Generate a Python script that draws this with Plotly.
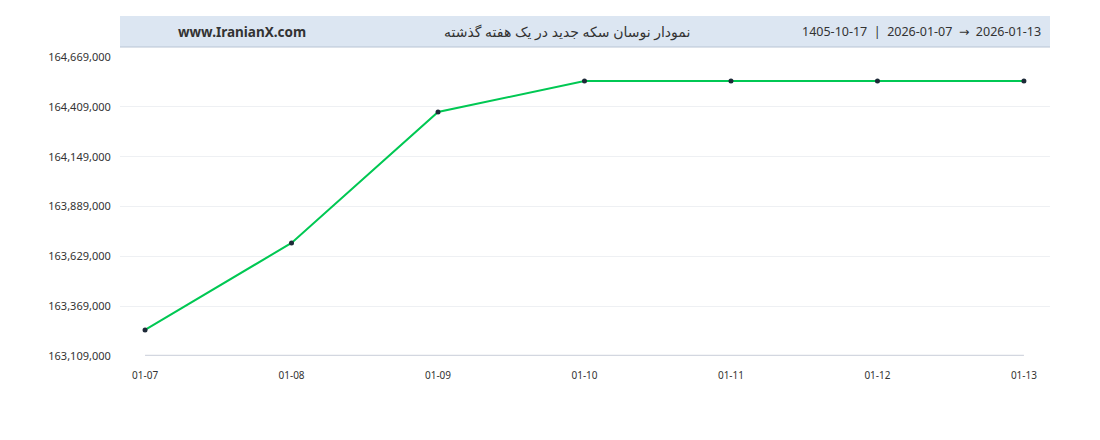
import plotly.graph_objects as go

dates = ["01-07", "01-08", "01-09", "01-10", "01-11", "01-12", "01-13"]
prices = [163245000, 163699000, 164382000, 164544000, 164544000, 164544000, 164544000]
y_ticks = [163109000, 163369000, 163629000, 163889000, 164149000, 164409000, 164669000]

site = "www.IranianX.com"
title = "نمودار نوسان سکه جدید در یک هفته گذشته"
date_text = "1405-10-17  |  2026-01-07  →  2026-01-13"

x_idx = list(range(len(dates)))

fig = go.Figure()
# baseline under the data span
fig.add_trace(go.Scatter(x=[x_idx[0], x_idx[-1]], y=[y_ticks[0], y_ticks[0]], mode="lines",
                         line=dict(color="#d3d7e0", width=2.5), hoverinfo="skip", showlegend=False,
                         cliponaxis=False))
fig.add_trace(go.Scatter(x=x_idx, y=prices, mode="lines+markers",
                         line=dict(color="#00c853", width=2),
                         marker=dict(color="#1e2a38", size=5),
                         showlegend=False, cliponaxis=False))

fig.update_layout(
    width=1100, height=440,
    margin=dict(l=112, r=58, t=49, b=92),
    paper_bgcolor="white", plot_bgcolor="white",
    font=dict(family="Noto Sans, DejaVu Sans, sans-serif", color="#333"),
    xaxis=dict(range=[-0.171, 6.178], tickvals=x_idx, ticktext=dates, showgrid=False,
               zeroline=False, showline=False, ticks="outside", ticklen=10,
               tickcolor="rgba(0,0,0,0)", tickfont=dict(size=10, color="#333")),
    yaxis=dict(range=[y_ticks[0], y_ticks[-1]], tickvals=y_ticks,
               ticktext=[f"{v:,}" for v in y_ticks], showgrid=True, gridcolor="#eef0f3",
               gridwidth=1, zeroline=False, showline=False, ticks="outside", ticklen=6,
               tickcolor="rgba(0,0,0,0)", tickfont=dict(size=11, color="#333")),
    shapes=[dict(type="rect", xref="paper", yref="paper", x0=0, x1=1, y0=1.0334, y1=1.137,
                 fillcolor="#dce6f2", line=dict(width=0), layer="below"),
            dict(type="line", xref="paper", yref="paper", x0=0, x1=1, y0=1.0334, y1=1.0334,
                 line=dict(color="#b8c4d4", width=1))],
    annotations=[
        dict(text="<b>" + site + "</b>", xref="paper", yref="paper", x=0.131, y=1.085,
             xanchor="center", yanchor="middle", showarrow=False,
             font=dict(size=13.5, color="#333")),
        dict(text=title, xref="paper", yref="paper", x=0.481, y=1.085,
             xanchor="center", yanchor="middle", showarrow=False,
             font=dict(size=14, color="#333")),
        dict(text=date_text, xref="paper", yref="paper", x=0.992, y=1.085,
             xanchor="right", yanchor="middle", showarrow=False,
             font=dict(size=12.5, color="#333")),
    ],
)

fig.write_html("out.html")
